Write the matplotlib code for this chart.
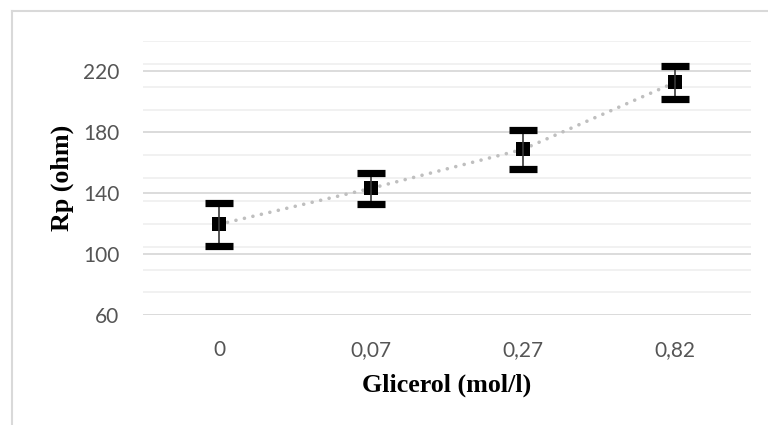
import matplotlib
matplotlib.use("Agg")
import matplotlib.pyplot as plt
from matplotlib.lines import Line2D
import numpy as np

# Data
categories = ["0", "0,07", "0,27", "0,82"]
rp_mean = [119.7, 143.3, 168.9, 212.8]
rp_err = [14.0, 10.3, 12.6, 11.0]
major_ticks = [60, 100, 140, 180, 220]
minor_grid = list(range(60, 241, 15))

W, H = 768, 425
fig = plt.figure(figsize=(W / 100, H / 100), dpi=100)
fig.patch.set_facecolor("white")

left, right, top, bottom = 143, 751, 41, 315.3
ax = fig.add_axes([left / W, 1 - bottom / H, (right - left) / W, (bottom - top) / H])

x = np.arange(len(categories))

# gridlines
for v in minor_grid:
    ax.axhline(v, color="#f0f0f0", lw=1.3, zorder=0)
for v in major_ticks:
    ax.axhline(v, color="#d9d9d9", lw=1.3, zorder=0.5)

# dotted trend line through means
ax.plot(x, rp_mean, color="#bfbfbf", lw=2.6, linestyle=(0, (0.01, 2.4)),
        dash_capstyle="round", zorder=2)

# markers
ax.plot(x, rp_mean, "s", color="black", markersize=10, markeredgewidth=0, zorder=3)

# error bars
_, caps, bars = ax.errorbar(x, rp_mean, yerr=rp_err, fmt="none", ecolor="#3a3a3a",
                            elinewidth=1.2, capsize=10.1, capthick=5.2, zorder=4)
for c in caps:
    c.set_color("black")
    c.set_markeredgecolor("black")
    c.set_markerfacecolor("black")
    c.set_zorder(4)

ax.set_xlim(-0.5, 3.5)
ax.set_ylim(60, 240)
ax.set_yticks(major_ticks)
ax.set_xticks(x)
ax.set_xticklabels(categories)

for s in ax.spines.values():
    s.set_visible(False)

ax.tick_params(axis="both", length=0)
ax.tick_params(axis="y", pad=17)
ax.tick_params(axis="x", pad=18)
for lab in ax.get_xticklabels() + ax.get_yticklabels():
    lab.set_fontfamily("Lato")
    lab.set_fontsize(15)
    lab.set_color("#555555")

title_font = dict(family="Liberation Serif", weight="bold", size=18.7, color="black")
ax.set_xlabel("Glicerol (mol/l)", va="center", **title_font)
ax.xaxis.set_label_coords(0.5, (bottom - 385) / (bottom - top))
ax.set_ylabel("Rp (ohm)", va="center", **title_font)
ax.yaxis.set_label_coords((62 - left) / (right - left), 0.5)

# chart border (left and top)
fig.add_artist(Line2D([11.5 / W, 11.5 / W], [0, 1 - 11.3 / H], transform=fig.transFigure,
                      color="#d9d9d9", lw=1.5))
fig.add_artist(Line2D([11.5 / W, 1], [1 - 11.3 / H, 1 - 11.3 / H], transform=fig.transFigure,
                      color="#d9d9d9", lw=1.5))

fig.savefig("out.png", dpi=100, facecolor="white")
